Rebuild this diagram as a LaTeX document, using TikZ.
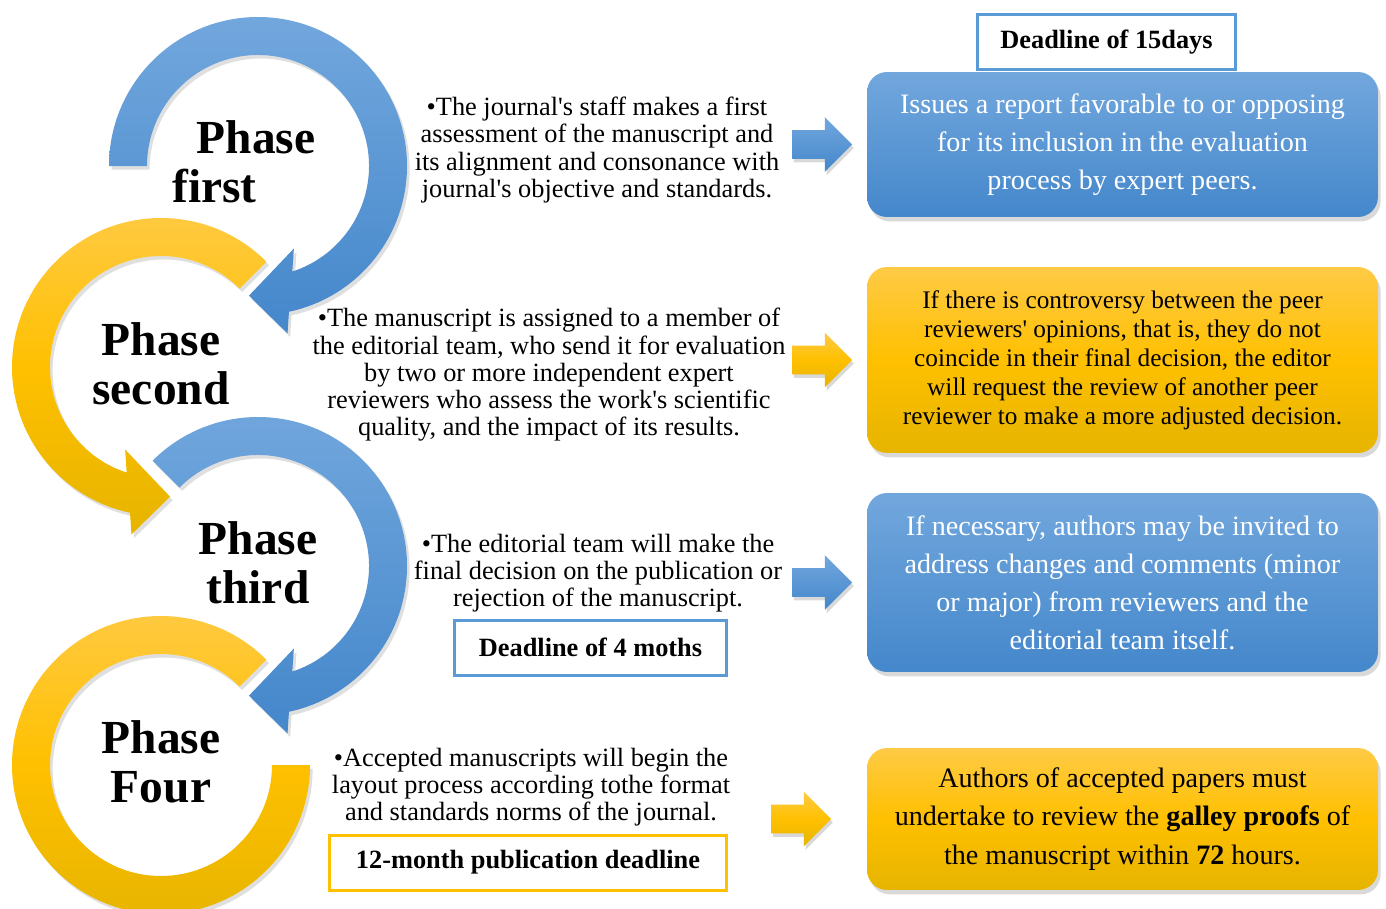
\documentclass[tikz,border=0pt]{standalone}
\usepackage{fontspec}
\setmainfont{Liberation Serif}
\usetikzlibrary{positioning,shapes.arrows,shadows,calc}
\definecolor{bluetop}{RGB}{114,167,221}
\definecolor{bluebot}{RGB}{68,135,203}
\definecolor{goldtop}{RGB}{255,202,70}
\definecolor{goldmid}{RGB}{255,192,0}
\definecolor{goldbot}{RGB}{230,180,0}
\definecolor{blueline}{RGB}{91,155,213}
\definecolor{goldline}{RGB}{255,192,0}
\newcommand{\ap}{\textquotesingle}

\begin{document}
\begin{tikzpicture}[x=0.02cm, y=0.02cm,
	phase/.style = {font=\fontsize{27}{28}\selectfont\bfseries, align=center, inner sep=0pt},
	txt/.style = {font=\fontsize{15}{15.5}\selectfont, align=center, inner sep=0pt},
	panel/.style = {rounded corners=0.4cm, minimum width=10.22cm, align=center, drop shadow={opacity=0.3, shadow xshift=1.5pt, shadow yshift=-2.5pt}},
	bluebox/.style = {panel, top color=bluetop, bottom color=bluebot, text=white, font=\fontsize{16}{21.6}\selectfont},
	goldbox/.style = {panel, top color=goldtop, bottom color=goldbot, middle color=goldmid, font=\fontsize{14.4}{16.5}\selectfont},
	arr/.style = {single arrow, single arrow head extend=0.26cm, minimum height=1.2cm, inner xsep=0pt, inner ysep=0.28cm, drop shadow={opacity=0.3, shadow xshift=1pt, shadow yshift=-2pt}},
	bluearr/.style = {arr, top color=bluetop, bottom color=bluebot},
	goldarr/.style = {arr, top color=goldtop, bottom color=goldbot, middle color=goldmid},
	dl/.style = {draw, line width=0.06cm, fill=white, minimum height=1.1cm, font=\fontsize{15}{15.5}\selectfont\bfseries},
	ring/.style = {drop shadow={opacity=0.25, shadow xshift=1.5pt, shadow yshift=-2pt}}]
	\useasboundingbox (0,0) rectangle (1386,-909);
	
	% circular arrows
	\coordinate (cA) at (258,-166);
	\coordinate (cB) at (161,-367);
	\coordinate (cC) at (258,-566);
	\coordinate (cD) at (161,-765);
	
	\path[ring, top color=bluetop, bottom color=bluebot] ($(cA)+(180:149)$) arc[start angle=180, end angle=-78, radius=149] -- ($(cA)+(-80:170)$) -- ($(cA)+(-94:130)$) -- ($(cA)+(-66.5:90)$) -- ($(cA)+(-72:111)$) arc[start angle=-72, end angle=180, radius=111] -- cycle;
	\path[ring, top color=goldtop, bottom color=goldbot, middle color=goldmid] ($(cB)+(45:149)$) arc[start angle=45, end angle=258, radius=149] -- ($(cB)+(260:170)$) -- ($(cB)+(274:130)$) -- ($(cB)+(246.5:90)$) -- ($(cB)+(252:111)$) arc[start angle=252, end angle=45, radius=111] -- cycle;
	\path[ring, top color=bluetop, bottom color=bluebot] ($(cC)+(135:149)$) arc[start angle=135, end angle=-78, radius=149] -- ($(cC)+(-80:170)$) -- ($(cC)+(-94:130)$) -- ($(cC)+(-66.5:90)$) -- ($(cC)+(-72:111)$) arc[start angle=-72, end angle=135, radius=111] -- cycle;
	\path[ring, top color=goldtop, bottom color=goldbot, middle color=goldmid] ($(cD)+(45:149)$) arc[start angle=45, end angle=360, radius=149] -- ($(cD)+(0:111)$) arc[start angle=360, end angle=45, radius=111] -- cycle;
	
	\node[phase] (p1) at (256,-162) {Phase\\first\hspace*{1.66cm}};
	\node[phase] (p2) at (161,-364) {Phase\\second};
	\node[phase] (p3) at (258,-563) {Phase\\third};
	\node[phase] (p4) at (161,-762) {Phase\\Four};
	
	% texts
	\node[txt] (t1) at (597,-150) {\textbullet The journal\ap s staff makes a first\\assessment of the manuscript and\\its alignment and consonance with\\journal\ap s objective and standards.};
	\node[txt] (t2) at (549,-375) {\textbullet The manuscript is assigned to a member of\\the editorial team, who send it for evaluation\\by two or more independent expert\\reviewers who assess the work\ap s scientific\\quality, and the impact of its results.};
	\node[txt] (t3) at (598,-573) {\textbullet The editorial team will make the\\final decision on the publication or\\rejection of the manuscript.};
	\node[txt] (t4) at (531,-787) {\textbullet Accepted manuscripts will begin the\\layout process according tothe format\\and standards norms of the journal.};
	
	% boxes
	\node[bluebox, minimum height=2.9cm] (b1) at (1122.5,-144.5) {Issues a report favorable to or opposing\\for its inclusion in the evaluation\\process by expert peers.};
	\node[goldbox, minimum height=3.72cm] (b2) at (1122.5,-360) {If there is controversy between the peer\\reviewers\ap{} opinions, that is, they do not\\coincide in their final decision, the editor\\will request the review of another peer\\reviewer to make a more adjusted decision.};
	\node[bluebox, minimum height=3.58cm] (b3) at (1122.5,-582.5) {If necessary, authors may be invited to\\address changes and comments (minor\\or major) from reviewers and the\\editorial team itself.};
	\node[goldbox, minimum height=2.84cm, font=\fontsize{16}{21.9}\selectfont] (b4) at (1122.5,-819) {Authors of accepted papers must\\undertake to review the \textbf{galley proofs} of\\the manuscript within \textbf{72} hours.};
	
	\node[bluearr] (a1) [left=0.28cm of b1] {};
	\node[goldarr] (a2) [left=0.28cm of b2] {};
	\node[bluearr] (a3) [left=0.28cm of b3] {};
	\node[goldarr] (a4) [left=0.7cm of b4] {};
	
	% deadlines
	\node[dl, draw=blueline, minimum width=5.16cm] (d1) at (1106.5,-42) {Deadline of 15days};
	\node[dl, draw=blueline, minimum width=5.44cm] (d2) at (590.5,-647.5) {Deadline of 4 moths};
	\node[dl, draw=goldline, minimum width=7.94cm] (d3) at (528,-862.5) {12-month publication deadline};
\end{tikzpicture}
\end{document}
